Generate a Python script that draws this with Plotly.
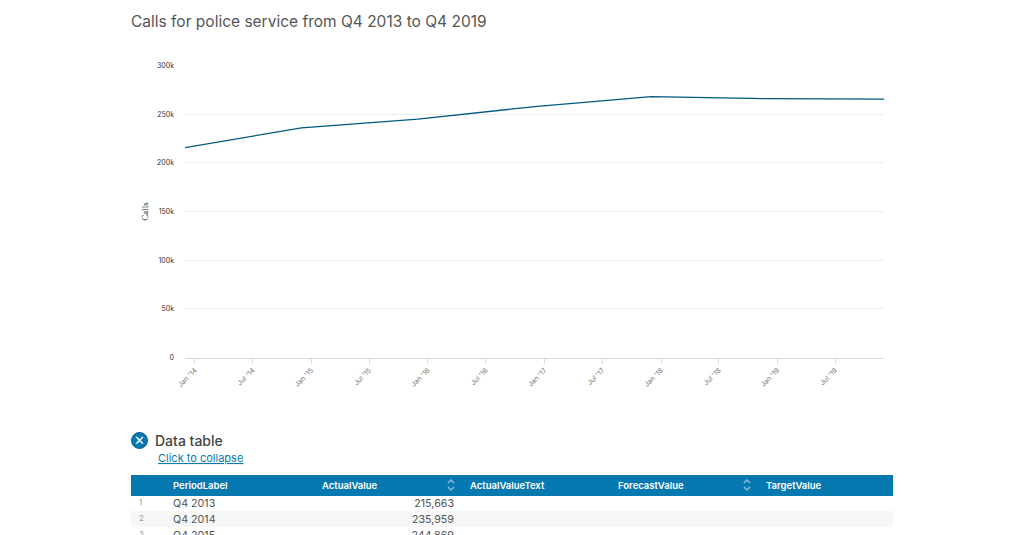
import plotly.graph_objects as go

# Quarterly series
period_dates = ["2013-12-01", "2014-12-01", "2015-12-01", "2016-12-01",
                "2017-12-01", "2018-12-01", "2019-12-01"]
actual_values = [215663, 235959, 244869, 257800, 268000, 265900, 265400]

# Axis ticks
y_ticks = [0, 50000, 100000, 150000, 200000, 250000, 300000]
y_tick_labels = ["0", "50k", "100k", "150k", "200k", "250k", "300k"]
x_ticks = ["2014-01-01", "2014-07-01", "2015-01-01", "2015-07-01", "2016-01-01", "2016-07-01",
           "2017-01-01", "2017-07-01", "2018-01-01", "2018-07-01", "2019-01-01", "2019-07-01"]
x_tick_labels = ["Jan '14", "Jul '14", "Jan '15", "Jul '15", "Jan '16", "Jul '16",
                 "Jan '17", "Jul '17", "Jan '18", "Jul '18", "Jan '19", "Jul '19"]

# Visible table rows
row_numbers = ["1", "2", "3"]
row_periods = ["Q4 2013", "Q4 2014", "Q4 2015"]
row_actuals = ["215,663", "235,959", "244,869"]
blank_column = ["", "", ""]
table_headers = ["", "PeriodLabel", "ActualValue", "ActualValueText", "ForecastValue", "TargetValue"]
blank_headers = [""] * 6

W, H = 1020, 535
FONT = "Inter, 'Open Sans', sans-serif"
BLUE = "#0679b1"
CLEAR = "rgba(0,0,0,0)"
ROW_FILLS = ["#ffffff", "#f7f7f7", "#ffffff"]
COLUMN_WIDTHS = [34, 149, 148, 148, 148, 134]


def px(x):
    return x / W


def py(y):
    return 1 - y / H


def sort_icon(cx, cy):
    """Small up and down chevrons for a sortable table column."""
    pts = [
        [(cx - 3, cy - 2), (cx, cy - 5), (cx + 3, cy - 2)],
        [(cx - 3, cy + 2), (cx, cy + 5), (cx + 3, cy + 2)],
    ]
    out = []
    for chevron in pts:
        path = "M" + " L".join(f"{px(a):.5f},{py(b):.5f}" for a, b in chevron)
        out.append(dict(type="path", xref="paper", yref="paper", path=path,
                        line=dict(color="#8fc0da", width=1.4)))
    return out


fig = go.Figure()

fig.add_trace(go.Scatter(
    x=period_dates, y=actual_values, mode="lines",
    line=dict(color="#005a82", width=1.3), hoverinfo="skip", showlegend=False,
))

# Table background: header band and row stripes
fig.add_trace(go.Table(
    domain=dict(x=[px(131), px(892)], y=[0, py(475)]),
    columnwidth=COLUMN_WIDTHS,
    header=dict(values=blank_headers, height=20, fill_color=BLUE, line_color=BLUE, line_width=1),
    cells=dict(
        values=[blank_column] * 6,
        height=16,
        fill_color=[ROW_FILLS] * 6,
        line_color=[ROW_FILLS] * 6,
        line_width=1,
    ),
))

# Table text, laid over the background so it sits centred in each row
fig.add_trace(go.Table(
    domain=dict(x=[px(131), px(892)], y=[0, py(474)]),
    columnwidth=COLUMN_WIDTHS,
    header=dict(
        values=table_headers, height=17, align="left",
        fill_color=CLEAR, line_color=CLEAR, line_width=0,
        font=dict(family=FONT, size=9.5, color="white", weight=600),
    ),
    cells=dict(
        values=[row_numbers, row_periods, row_actuals, blank_column, blank_column, blank_column],
        height=16,
        align=["left", "left", "right", "left", "left", "left"],
        fill_color=CLEAR,
        line_color=CLEAR,
        line_width=0,
        font=dict(family=FONT, size=[8, 10.7, 10.7, 10.7, 10.7, 10.7],
                  color=[["#999999"] * 3] + [["#555555"] * 3] * 5),
    ),
))

fig.update_layout(
    width=W, height=H, autosize=False,
    margin=dict(l=0, r=0, t=0, b=0, pad=0, autoexpand=False),
    paper_bgcolor="white", plot_bgcolor="white",
    font=dict(family=FONT),
    xaxis=dict(
        domain=[px(185), px(884)],
        type="date", range=[period_dates[0], period_dates[-1]],
        tickmode="array", tickvals=x_ticks, ticktext=x_tick_labels,
        tickangle=-45, ticks="outside", ticklen=5, tickcolor="#d8dbe8", tickwidth=1,
        tickfont=dict(size=7, color="#777777"),
        showgrid=False, showline=True, linecolor="#d8dbe8", linewidth=1, zeroline=False,
    ),
    yaxis=dict(
        domain=[py(357.5), py(65.5)],
        range=[0, 300000], tickmode="array", tickvals=y_ticks, ticktext=y_tick_labels,
        tickfont=dict(size=7, color="#333333"), ticks="", ticklabelstandoff=10,
        gridcolor="#eeeeee", gridwidth=1, zeroline=False, showline=False,
        title=dict(text="Calls", font=dict(family="Liberation Serif", size=9, color="#111111"),
                   standoff=6),
    ),
    annotations=[
        dict(text="Calls for police service from Q4 2013 to Q4 2019", x=px(131), y=py(21),
             xref="paper", yref="paper", xanchor="left", yanchor="middle", showarrow=False,
             xshift=-2, font=dict(family=FONT, size=15.5, color="#555555")),
        dict(text="Data table", x=px(155), y=py(440.5),
             xref="paper", yref="paper", xanchor="left", yanchor="middle", showarrow=False,
             xshift=-2, font=dict(family=FONT, size=14, color="#444444", weight=500)),
        dict(text="<u>Click to collapse</u>", x=px(158), y=py(458),
             xref="paper", yref="paper", xanchor="left", yanchor="middle", showarrow=False,
             xshift=-2, font=dict(family=FONT, size=11, color=BLUE)),
        dict(text="✕", x=px(139.5), y=py(440.5),
             xref="paper", yref="paper", xanchor="center", yanchor="middle", showarrow=False,
             font=dict(family="'DejaVu Sans'", size=13, color="white")),
    ],
    shapes=[
        dict(type="circle", xref="paper", yref="paper", x0=px(131.5), x1=px(147.5),
             y0=py(448.5), y1=py(432.5), fillcolor=BLUE, line=dict(color="#0a5f8a", width=1)),
    ] + sort_icon(451, 485) + sort_icon(747, 485),
)

fig.write_html("out.html", config={"displayModeBar": False})
